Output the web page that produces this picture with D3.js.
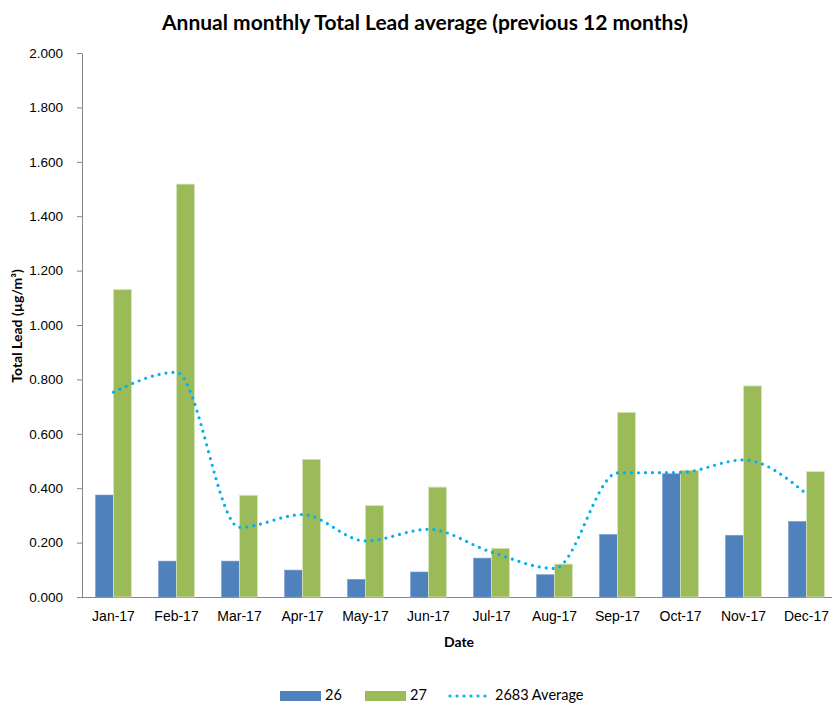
<head>
    <style>
        body { margin: 0; background: #fff; }
        svg { font-family: Lato, "Liberation Sans", sans-serif; }
        .axis path, .axis line { stroke: #868686; }
        .axis text { fill: #000; }
    </style>
</head>
<body>
    <script src="https://d3js.org/d3.v7.min.js"></script>
    <div id="chart"></div>
    <script>
        let months = ["Jan-17", "Feb-17", "Mar-17", "Apr-17", "May-17", "Jun-17",
                      "Jul-17", "Aug-17", "Sep-17", "Oct-17", "Nov-17", "Dec-17"];
        let site26 = [0.375, 0.132, 0.132, 0.099, 0.065, 0.092, 0.143, 0.082, 0.230, 0.453, 0.227, 0.278];
        let site27 = [1.130, 1.518, 0.374, 0.506, 0.336, 0.404, 0.179, 0.121, 0.679, 0.466, 0.776, 0.461];
        let avg2683 = [0.753, 0.826, 0.256, 0.303, 0.206, 0.249, 0.165, 0.105, 0.456, 0.458, 0.504, 0.379];
        let yTicks = [0, 0.2, 0.4, 0.6, 0.8, 1.0, 1.2, 1.4, 1.6, 1.8, 2.0];

        let w = 832, h = 704;
        let padL = 82, padT = 53, baseY = 597;
        let bandW = 63; // width of each month slot
        let barW = 18;

        let vis = d3.select("#chart").append("svg")
            .attr("width", w)
            .attr("height", h);

        let x = d3.scaleBand()
            .domain(months)
            .range([padL, padL + bandW * months.length]);
        let y = d3.scaleLinear()
            .domain([0, 2])
            .range([baseY, padT]);

        // title
        vis.append("text")
            .attr("x", 425).attr("y", 30)
            .attr("text-anchor", "middle")
            .attr("font-size", 21).attr("font-weight", "bold")
            .text("Annual monthly Total Lead average (previous 12 months)");

        // y axis
        let yAxis = vis.append("g")
            .attr("class", "axis")
            .attr("transform", "translate(" + padL + ",0)")
            .call(d3.axisLeft(y).tickValues(yTicks).tickSize(5).tickPadding(14)
                  .tickFormat(d3.format(".3f")).tickSizeOuter(0));
        yAxis.selectAll("text").attr("font-size", 13.5);

        // x axis
        let xAxis = vis.append("g")
            .attr("class", "axis")
            .attr("transform", "translate(0," + baseY + ")")
            .call(d3.axisBottom(x).tickSize(0).tickPadding(14).tickSizeOuter(0));
        xAxis.selectAll("text").attr("font-size", 14);
        xAxis.select(".domain").attr("d", "M" + (padL - 5) + ",0.5H" + w);

        // bars
        let pair = vis.append("g").selectAll("g")
            .data(months)
            .enter().append("g");
        pair.append("rect")
            .attr("x", function(d) { return x(d) + x.bandwidth() / 2 - barW; })
            .attr("y", function(d, i) { return y(site26[i]); })
            .attr("width", barW)
            .attr("height", function(d, i) { return y(0) - y(site26[i]); })
            .attr("fill", "#4f81bd")
            .attr("stroke", "#7da1cf").attr("stroke-width", 0.6);
        pair.append("rect")
            .attr("x", function(d) { return x(d) + x.bandwidth() / 2; })
            .attr("y", function(d, i) { return y(site27[i]); })
            .attr("width", barW)
            .attr("height", function(d, i) { return y(0) - y(site27[i]); })
            .attr("fill", "#9bbb59")
            .attr("stroke", "#d7e4bd").attr("stroke-width", 0.8);

        // average line
        let line = d3.line()
            .x(function(d, i) { return x(months[i]) + x.bandwidth() / 2; })
            .y(function(d) { return y(d); })
            .curve(d3.curveMonotoneX);
        vis.append("path")
            .datum(avg2683)
            .attr("d", line)
            .attr("fill", "none")
            .attr("stroke", "#00b0f0")
            .attr("stroke-width", 3.2)
            .attr("stroke-linecap", "round")
            .attr("stroke-dasharray", "0,7");

        // axis titles
        vis.append("text")
            .attr("transform", "translate(22,326) rotate(-90)")
            .attr("text-anchor", "middle")
            .attr("font-size", 14).attr("font-weight", "bold")
            .text("Total Lead (µg/m³)");
        vis.append("text")
            .attr("x", 459).attr("y", 647)
            .attr("text-anchor", "middle")
            .attr("font-size", 14).attr("font-weight", "bold")
            .text("Date");

        // legend
        let lg = vis.append("g").attr("font-size", 14.5);
        lg.append("rect").attr("x", 280).attr("y", 691).attr("width", 41).attr("height", 10).attr("fill", "#4f81bd");
        lg.append("text").attr("x", 325).attr("y", 700).text("26");
        lg.append("rect").attr("x", 365).attr("y", 691).attr("width", 41).attr("height", 10).attr("fill", "#9bbb59");
        lg.append("text").attr("x", 410).attr("y", 700).text("27");
        lg.append("line").attr("x1", 450).attr("x2", 488).attr("y1", 696).attr("y2", 696)
            .attr("stroke", "#00b0f0").attr("stroke-width", 3.2)
            .attr("stroke-linecap", "round").attr("stroke-dasharray", "0,7");
        lg.append("text").attr("x", 495).attr("y", 700).text("2683 Average");
    </script>
</body>
